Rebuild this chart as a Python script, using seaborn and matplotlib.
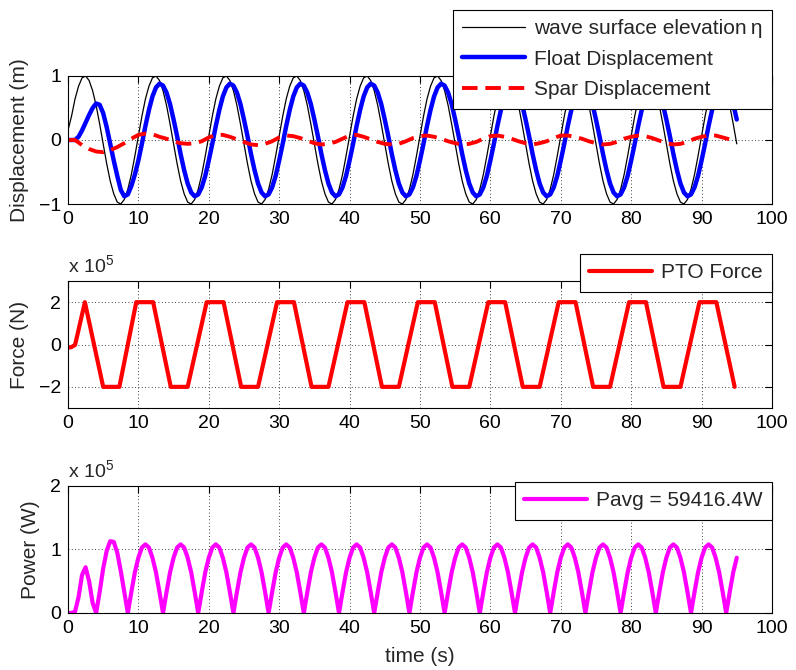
import numpy as np
import pandas as pd
import matplotlib
matplotlib.use("Agg")
import matplotlib.pyplot as plt
import seaborn as sns

# time grids (s)
t_half = np.linspace(0, 95, 191)   # 0.5 s steps
t_sec = np.linspace(0, 95, 96)     # 1 s steps

# wave surface elevation eta (m), 0.5 s steps
eta = [
    0.15, 0.37, 0.64, 0.84, 0.97, 1.00, 0.93, 0.77, 0.54, 0.25, -0.06, -0.37, -0.64, -0.84, -0.97, -1.00, -0.93, -0.77, -0.54, -0.25,
    0.06, 0.37, 0.64, 0.84, 0.97, 1.00, 0.93, 0.77, 0.54, 0.25, -0.06, -0.37, -0.64, -0.84, -0.97, -1.00, -0.93, -0.77, -0.54, -0.25,
    0.06, 0.37, 0.64, 0.84, 0.97, 1.00, 0.93, 0.77, 0.54, 0.25, -0.06, -0.37, -0.64, -0.84, -0.97, -1.00, -0.93, -0.77, -0.54, -0.25,
    0.06, 0.37, 0.64, 0.84, 0.97, 1.00, 0.93, 0.77, 0.54, 0.25, -0.06, -0.37, -0.64, -0.84, -0.97, -1.00, -0.93, -0.77, -0.54, -0.25,
    0.06, 0.37, 0.64, 0.84, 0.97, 1.00, 0.93, 0.77, 0.54, 0.25, -0.06, -0.37, -0.64, -0.84, -0.97, -1.00, -0.93, -0.77, -0.54, -0.25,
    0.06, 0.37, 0.64, 0.84, 0.97, 1.00, 0.93, 0.77, 0.54, 0.25, -0.06, -0.37, -0.64, -0.84, -0.97, -1.00, -0.93, -0.77, -0.54, -0.25,
    0.06, 0.37, 0.64, 0.84, 0.97, 1.00, 0.93, 0.77, 0.54, 0.25, -0.06, -0.37, -0.64, -0.84, -0.97, -1.00, -0.93, -0.77, -0.54, -0.25,
    0.06, 0.37, 0.64, 0.84, 0.97, 1.00, 0.93, 0.77, 0.54, 0.25, -0.06, -0.37, -0.64, -0.84, -0.97, -1.00, -0.93, -0.77, -0.54, -0.25,
    0.06, 0.37, 0.64, 0.84, 0.97, 1.00, 0.93, 0.77, 0.54, 0.25, -0.06, -0.37, -0.64, -0.84, -0.97, -1.00, -0.93, -0.77, -0.54, -0.25,
    0.06, 0.37, 0.64, 0.84, 0.97, 1.00, 0.93, 0.77, 0.54, 0.25, -0.06,
]

# float displacement (m), 0.5 s steps
float_disp = [
    0.00, 0.00, 0.00, 0.05, 0.15, 0.27, 0.39, 0.50, 0.57, 0.55, 0.42, 0.20, -0.06, -0.32, -0.56, -0.78, -0.88, -0.85, -0.72, -0.54,
    -0.32, -0.06, 0.22, 0.47, 0.68, 0.82, 0.88, 0.85, 0.74, 0.56, 0.32, 0.06, -0.22, -0.47, -0.68, -0.82, -0.88, -0.85, -0.74, -0.56,
    -0.32, -0.06, 0.22, 0.47, 0.68, 0.82, 0.88, 0.85, 0.74, 0.56, 0.32, 0.06, -0.22, -0.47, -0.68, -0.82, -0.88, -0.85, -0.74, -0.56,
    -0.32, -0.06, 0.22, 0.47, 0.68, 0.82, 0.88, 0.85, 0.74, 0.56, 0.32, 0.06, -0.22, -0.47, -0.68, -0.82, -0.88, -0.85, -0.74, -0.56,
    -0.32, -0.06, 0.22, 0.47, 0.68, 0.82, 0.88, 0.85, 0.74, 0.56, 0.32, 0.06, -0.22, -0.47, -0.68, -0.82, -0.88, -0.85, -0.74, -0.56,
    -0.32, -0.06, 0.22, 0.47, 0.68, 0.82, 0.88, 0.85, 0.74, 0.56, 0.32, 0.06, -0.22, -0.47, -0.68, -0.82, -0.88, -0.85, -0.74, -0.56,
    -0.32, -0.06, 0.22, 0.47, 0.68, 0.82, 0.88, 0.85, 0.74, 0.56, 0.32, 0.06, -0.22, -0.47, -0.68, -0.82, -0.88, -0.85, -0.74, -0.56,
    -0.32, -0.06, 0.22, 0.47, 0.68, 0.82, 0.88, 0.85, 0.74, 0.56, 0.32, 0.06, -0.22, -0.47, -0.68, -0.82, -0.88, -0.85, -0.74, -0.56,
    -0.32, -0.06, 0.22, 0.47, 0.68, 0.82, 0.88, 0.85, 0.74, 0.56, 0.32, 0.06, -0.22, -0.47, -0.68, -0.82, -0.88, -0.85, -0.74, -0.56,
    -0.32, -0.06, 0.22, 0.47, 0.68, 0.82, 0.88, 0.85, 0.74, 0.56, 0.32,
]

# spar displacement (m), 1 s steps
spar_disp = [
    0.00, 0.00, -0.08, -0.14, -0.18, -0.19, -0.16, -0.11, -0.05, 0.02,
    0.08, 0.10, 0.09, 0.05, 0.02, -0.02, -0.05, -0.06, -0.05, -0.02,
    0.04, 0.08, 0.08, 0.05, 0.01, -0.03, -0.07, -0.08, -0.06, -0.02,
    0.04, 0.07, 0.06, 0.03, -0.01, -0.05, -0.07, -0.06, -0.03, 0.02,
    0.07, 0.08, 0.05, 0.01, -0.03, -0.06, -0.07, -0.06, -0.02, 0.03,
    0.06, 0.07, 0.05, 0.02, -0.02, -0.05, -0.07, -0.06, -0.03, 0.02,
    0.06, 0.07, 0.05, 0.02, -0.02, -0.05, -0.07, -0.05, -0.02, 0.03,
    0.07, 0.07, 0.05, 0.02, -0.02, -0.05, -0.07, -0.06, -0.03, 0.02,
    0.05, 0.07, 0.06, 0.03, -0.01, -0.05, -0.07, -0.06, -0.03, 0.02,
    0.05, 0.07, 0.07, 0.04, 0.01, 0.00,
]

# PTO force (x 1e5 N), corner points
force_t = [0, 0.5, 1.0, 1.3, 2.4,
           5.0, 7.3, 9.7, 12.1, 14.6, 17.0, 19.7, 22.1, 24.6, 27.0, 29.7, 32.1,
           34.6, 37.0, 39.7, 42.1, 44.6, 47.0, 49.7, 52.1, 54.6, 57.0, 59.7, 62.1,
           64.6, 67.0, 69.7, 72.1, 74.6, 77.0, 79.7, 82.1, 84.6, 87.0, 89.7, 92.1,
           94.7]
force_v = [-0.15, -0.12, -0.02, 0.4, 2.0,
           -2, -2, 2, 2, -2, -2, 2, 2, -2, -2, 2, 2,
           -2, -2, 2, 2, -2, -2, 2, 2, -2, -2, 2, 2,
           -2, -2, 2, 2, -2, -2, 2, 2, -2, -2, 2, 2,
           -2]

# power (x 1e5 W), 0.5 s steps
power = [
    0, 0, 0.02, 0.25, 0.60, 0.72, 0.50, 0.16, 0, 0.33, 0.70, 0.98, 1.13, 1.12, 0.95, 0.66, 0.33,
    0, 0.33, 0.64, 0.87, 1.03, 1.08, 1.03, 0.87, 0.64, 0.33,
    0, 0.33, 0.64, 0.87, 1.03, 1.08, 1.03, 0.87, 0.64, 0.33,
    0, 0.33, 0.64, 0.87, 1.03, 1.08, 1.03, 0.87, 0.64, 0.33,
    0, 0.33, 0.64, 0.87, 1.03, 1.08, 1.03, 0.87, 0.64, 0.33,
    0, 0.33, 0.64, 0.87, 1.03, 1.08, 1.03, 0.87, 0.64, 0.33,
    0, 0.33, 0.64, 0.87, 1.03, 1.08, 1.03, 0.87, 0.64, 0.33,
    0, 0.33, 0.64, 0.87, 1.03, 1.08, 1.03, 0.87, 0.64, 0.33,
    0, 0.33, 0.64, 0.87, 1.03, 1.08, 1.03, 0.87, 0.64, 0.33,
    0, 0.33, 0.64, 0.87, 1.03, 1.08, 1.03, 0.87, 0.64, 0.33,
    0, 0.33, 0.64, 0.87, 1.03, 1.08, 1.03, 0.87, 0.64, 0.33,
    0, 0.33, 0.64, 0.87, 1.03, 1.08, 1.03, 0.87, 0.64, 0.33,
    0, 0.33, 0.64, 0.87, 1.03, 1.08, 1.03, 0.87, 0.64, 0.33,
    0, 0.33, 0.64, 0.87, 1.03, 1.08, 1.03, 0.87, 0.64, 0.33,
    0, 0.33, 0.64, 0.87, 1.03, 1.08, 1.03, 0.87, 0.64, 0.33,
    0, 0.33, 0.64, 0.87, 1.03, 1.08, 1.03, 0.87, 0.64, 0.33,
    0, 0.33, 0.64, 0.87, 1.03, 1.08, 1.03, 0.87, 0.64, 0.33,
    0, 0.33, 0.64, 0.87, 1.03, 1.08, 1.03, 0.87, 0.64, 0.33,
    0, 0.33, 0.64, 0.87,
]

disp_df = pd.DataFrame({'time': t_half, 'eta': eta, 'float': float_disp})
spar_df = pd.DataFrame({'time': t_sec, 'spar': spar_disp})
force_df = pd.DataFrame({'time': force_t, 'force': force_v})
power_df = pd.DataFrame({'time': t_half, 'power': power})

sns.set_style("white")
plt.rcParams['font.family'] = ['Liberation Sans', 'DejaVu Sans']
plt.rcParams['mathtext.fontset'] = 'custom'
plt.rcParams['mathtext.rm'] = 'Liberation Sans'
TICK_FS = 14
FS = 15

fig = plt.figure(figsize=(7.96, 6.7), dpi=100)
ax1 = fig.add_axes([0.0854, 0.6955, 0.8844, 0.1911])
ax2 = fig.add_axes([0.0854, 0.3910, 0.8844, 0.1896])
ax3 = fig.add_axes([0.0854, 0.0851, 0.8844, 0.1896])

# Displacement
sns.lineplot(x='time', y='eta', data=disp_df, ax=ax1, color='black', linewidth=0.9,
             label='wave surface elevation\u2009η')
sns.lineplot(x='time', y='float', data=disp_df, ax=ax1, color='blue', linewidth=3.2,
             label='Float Displacement')
sns.lineplot(x='time', y='spar', data=spar_df, ax=ax1, color='red', linewidth=2.8,
             linestyle=(0, (4, 2)), label='Spar Displacement')

# Force
sns.lineplot(x='time', y='force', data=force_df, ax=ax2, color='red', linewidth=3.0,
             label='PTO Force', sort=False)

# Power
sns.lineplot(x='time', y='power', data=power_df, ax=ax3, color='magenta', linewidth=3.0,
             label='Pavg = 59416.4W')


def style_axes(ax, ylim, yticks, ylabel):
    ax.set_xlim(0, 100)
    ax.set_xticks(range(0, 101, 10))
    ax.set_ylim(*ylim)
    ax.set_yticks(yticks)
    ax.grid(True, color='black', linestyle=(0, (1, 3)), linewidth=0.6)
    ax.tick_params(direction='in', top=True, right=True, length=5, width=0.8,
                   labelsize=TICK_FS, pad=5, colors='black')
    for s in ax.spines.values():
        s.set_linewidth(0.8)
        s.set_color('black')
    ax.set_xlabel('')
    ax.set_ylabel(ylabel, fontsize=FS, labelpad=7)


style_axes(ax1, (-1, 1), [-1, 0, 1], 'Displacement (m)')
style_axes(ax2, (-3, 3), [-2, 0, 2], 'Force (N)')
style_axes(ax3, (0, 2), [0, 1, 2], 'Power (W)')
ax3.set_xlabel('time (s)', fontsize=FS, labelpad=7)

for ax in (ax2, ax3):
    ax.text(0, 1.035, r'x $\mathregular{10^5}$', transform=ax.transAxes,
            ha='left', va='bottom', fontsize=TICK_FS)

leg_kw = dict(loc='upper right', frameon=True, fancybox=False, edgecolor='black',
              framealpha=1, fontsize=FS, handlelength=3.0, handletextpad=0.45,
              borderpad=0.45, labelspacing=0.55, borderaxespad=0)
for ax, y in ((ax1, 1.516), (ax2, 1.213), (ax3, 1.031)):
    leg = ax.legend(bbox_to_anchor=(1.0, y), **leg_kw)
    leg.get_frame().set_linewidth(0.8)

fig.savefig('out.png', dpi=100, facecolor='white')
